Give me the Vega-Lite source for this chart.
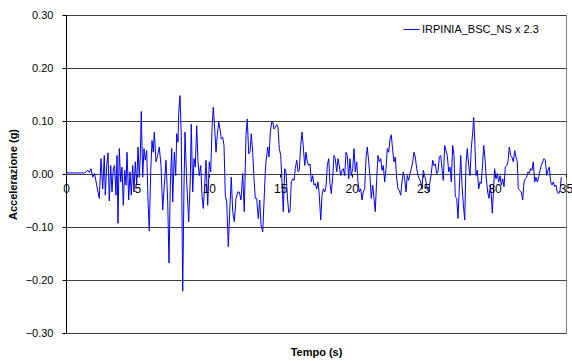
{
"$schema": "https://vega.github.io/schema/vega-lite/v6.json",
"width": 500, "height": 318,
"autosize": {"type": "none"},
"padding": {"left": 66, "top": 15, "right": 6, "bottom": 28},
"background": "white",
"config": {"view": {"stroke": "#808080", "strokeWidth": 1}, "font": "Liberation Sans"},
"data": {"values": [
{"t":0,"a":0.002},{"t":1.28,"a":0.002},{"t":1.4,"a":0.004},{"t":1.52,"a":0.007},{"t":1.63,"a":0.003},{"t":1.75,"a":0.010},{"t":1.87,"a":-0.006},{"t":2.0,"a":0.001},{"t":2.15,"a":-0.021},{"t":2.33,"a":-0.046},{"t":2.45,"a":0.029},{"t":2.57,"a":-0.028},{"t":2.68,"a":0.035},{"t":2.75,"a":-0.040},{"t":2.85,"a":0.016},{"t":2.94,"a":0.040},{"t":3.03,"a":-0.051},{"t":3.13,"a":0.016},{"t":3.22,"a":-0.034},{"t":3.31,"a":0.010},{"t":3.4,"a":0.016},{"t":3.5,"a":-0.040},{"t":3.57,"a":0.035},{"t":3.64,"a":-0.093},{"t":3.73,"a":0.048},{"t":3.83,"a":-0.015},{"t":3.92,"a":0.013},{"t":4.01,"a":-0.059},{"t":4.11,"a":0.007},{"t":4.2,"a":-0.021},{"t":4.27,"a":0.041},{"t":4.39,"a":-0.049},{"t":4.48,"a":0.004},{"t":4.57,"a":-0.040},{"t":4.67,"a":0.016},{"t":4.76,"a":-0.034},{"t":4.85,"a":0.023},{"t":4.95,"a":-0.021},{"t":5.04,"a":0.051},{"t":5.13,"a":-0.006},{"t":5.2,"a":0.035},{"t":5.27,"a":0.118},{"t":5.37,"a":-0.006},{"t":5.46,"a":0.048},{"t":5.55,"a":0.026},{"t":5.65,"a":0.044},{"t":5.74,"a":-0.049},{"t":5.83,"a":-0.107},{"t":5.93,"a":0.004},{"t":6.02,"a":0.063},{"t":6.11,"a":0.041},{"t":6.18,"a":0.079},{"t":6.3,"a":0.023},{"t":6.42,"a":0.035},{"t":6.53,"a":0.051},{"t":6.65,"a":0.016},{"t":6.77,"a":-0.068},{"t":6.88,"a":-0.021},{"t":7.0,"a":0.026},
{"t":7.12,"a":-0.053},{"t":7.21,"a":-0.168},{"t":7.3,"a":-0.021},{"t":7.4,"a":0.048},{"t":7.47,"a":-0.053},{"t":7.58,"a":0.041},{"t":7.68,"a":-0.003},{"t":7.75,"a":0.076},{"t":7.84,"a":0.060},{"t":7.89,"a":0.116},{"t":7.98,"a":0.148},{"t":8.07,"a":0.073},{"t":8.17,"a":-0.221},{"t":8.26,"a":-0.021},{"t":8.33,"a":0.079},{"t":8.45,"a":-0.015},{"t":8.59,"a":-0.090},{"t":8.7,"a":-0.009},{"t":8.77,"a":0.094},{"t":8.87,"a":-0.034},{"t":8.96,"a":0.029},{"t":9.05,"a":0.013},{"t":9.15,"a":0.091},{"t":9.24,"a":0.023},{"t":9.33,"a":-0.003},{"t":9.43,"a":0.016},{"t":9.52,"a":-0.040},{"t":9.61,"a":-0.065},{"t":9.71,"a":-0.021},{"t":9.8,"a":0.026},{"t":9.92,"a":-0.059},{"t":10.03,"a":0.023},{"t":10.13,"a":0.004},{"t":10.22,"a":0.085},{"t":10.31,"a":0.126},{"t":10.41,"a":0.085},{"t":10.5,"a":0.041},{"t":10.59,"a":0.073},{"t":10.69,"a":0.098},{"t":10.78,"a":0.085},{"t":10.87,"a":0.066},{"t":10.97,"a":0.069},{"t":11.06,"a":0.054},{"t":11.15,"a":-0.040},{"t":11.25,"a":-0.053},{"t":11.36,"a":-0.137},{"t":11.48,"a":-0.059},{"t":11.57,"a":-0.006},{"t":11.67,"a":-0.071},{"t":11.78,"a":-0.090},{"t":11.9,"a":-0.046},{"t":12.02,"a":-0.034},{"t":12.13,"a":-0.034},{"t":12.25,"a":-0.049},{"t":12.37,"a":0.001},{"t":12.48,"a":-0.071},{"t":12.6,"a":0.073},{"t":12.69,"a":0.104},{"t":12.79,"a":0.038},{"t":12.88,"a":0.041},{"t":12.97,"a":0.076},{"t":13.07,"a":0.041},{"t":13.16,"a":-0.009},{"t":13.25,"a":-0.046},{"t":13.35,"a":-0.046},{"t":13.46,"a":-0.084},{"t":13.56,"a":-0.049},{"t":13.65,"a":-0.096},{"t":13.77,"a":-0.109},{"t":13.86,"a":-0.053},{"t":13.95,"a":0.004},
{"t":14.0,"a":0.023},{"t":14.12,"a":0.051},{"t":14.21,"a":0.032},{"t":14.3,"a":0.079},{"t":14.4,"a":0.098},{"t":14.47,"a":0.099},{"t":14.56,"a":0.085},{"t":14.65,"a":0.088},{"t":14.75,"a":0.093},{"t":14.84,"a":0.088},{"t":14.93,"a":0.048},{"t":15.03,"a":0.035},{"t":15.12,"a":-0.015},{"t":15.21,"a":-0.071},{"t":15.31,"a":0.010},{"t":15.4,"a":0.004},{"t":15.49,"a":-0.040},{"t":15.59,"a":-0.073},{"t":15.68,"a":-0.071},{"t":15.77,"a":-0.015},{"t":15.87,"a":-0.009},{"t":15.96,"a":-0.012},{"t":16.05,"a":0.010},{"t":16.15,"a":0.026},{"t":16.24,"a":0.004},{"t":16.33,"a":0.007},{"t":16.43,"a":0.054},{"t":16.52,"a":0.079},{"t":16.61,"a":0.051},{"t":16.71,"a":0.016},{"t":16.8,"a":0.041},{"t":16.89,"a":0.023},{"t":16.99,"a":0.016},{"t":17.08,"a":0.019},{"t":17.17,"a":-0.015},{"t":17.27,"a":-0.003},{"t":17.36,"a":-0.021},{"t":17.45,"a":-0.018},{"t":17.55,"a":-0.028},{"t":17.64,"a":-0.015},{"t":17.73,"a":-0.040},{"t":17.83,"a":-0.087},{"t":17.92,"a":-0.040},{"t":18.01,"a":-0.028},{"t":18.11,"a":-0.034},{"t":18.2,"a":-0.024},{"t":18.29,"a":0.016},{"t":18.39,"a":0.029},{"t":18.48,"a":-0.018},{"t":18.57,"a":-0.037},{"t":18.67,"a":-0.006},{"t":18.76,"a":0.035},{"t":18.85,"a":0.029},{"t":18.95,"a":0.004},{"t":19.04,"a":0.029},{"t":19.13,"a":0.016},{"t":19.23,"a":-0.003},{"t":19.32,"a":0.007},{"t":19.41,"a":0.010},{"t":19.51,"a":-0.003},{"t":19.6,"a":0.041},{"t":19.69,"a":0.035},{"t":19.79,"a":-0.009},{"t":19.88,"a":0.029},{"t":19.97,"a":-0.003},{"t":20.07,"a":0.010},{"t":20.16,"a":0.048},{"t":20.25,"a":0.004},{"t":20.35,"a":0.023},{"t":20.44,"a":-0.015},{"t":20.53,"a":-0.034},{"t":20.63,"a":-0.028},{"t":20.72,"a":-0.049},{"t":20.81,"a":-0.034},{"t":20.91,"a":-0.028},{"t":21.0,"a":0.030},
{"t":21.09,"a":0.051},{"t":21.19,"a":0.023},{"t":21.28,"a":-0.006},{"t":21.37,"a":-0.046},{"t":21.47,"a":-0.021},{"t":21.56,"a":-0.046},{"t":21.65,"a":-0.071},{"t":21.75,"a":-0.009},{"t":21.84,"a":0.035},{"t":21.93,"a":0.023},{"t":22.03,"a":0.029},{"t":22.12,"a":0.007},{"t":22.21,"a":0.016},{"t":22.31,"a":-0.015},{"t":22.4,"a":0.010},{"t":22.49,"a":0.048},{"t":22.59,"a":0.041},{"t":22.68,"a":0.066},{"t":22.77,"a":0.074},{"t":22.87,"a":0.044},{"t":22.96,"a":0.023},{"t":23.05,"a":0.032},{"t":23.15,"a":-0.009},{"t":23.24,"a":-0.028},{"t":23.33,"a":-0.031},{"t":23.43,"a":-0.040},{"t":23.52,"a":-0.015},{"t":23.61,"a":0.004},{"t":23.71,"a":-0.009},{"t":23.8,"a":-0.034},{"t":23.89,"a":-0.003},{"t":23.99,"a":-0.012},{"t":24.08,"a":0.001},{"t":24.17,"a":0.010},{"t":24.27,"a":0.023},{"t":24.36,"a":0.041},{"t":24.45,"a":0.032},{"t":24.55,"a":0.010},{"t":24.64,"a":-0.003},{"t":24.73,"a":-0.009},{"t":24.83,"a":-0.015},{"t":24.92,"a":-0.028},{"t":25.01,"a":0.007},{"t":25.11,"a":-0.003},{"t":25.2,"a":-0.015},{"t":25.29,"a":-0.028},{"t":25.39,"a":-0.034},{"t":25.48,"a":-0.015},{"t":25.57,"a":0.001},{"t":25.67,"a":0.026},{"t":25.76,"a":0.016},{"t":25.85,"a":0.019},{"t":25.95,"a":0.001},{"t":26.04,"a":0.004},{"t":26.13,"a":0.032},{"t":26.23,"a":0.035},{"t":26.32,"a":0.010},{"t":26.41,"a":-0.012},{"t":26.51,"a":0.054},{"t":26.6,"a":0.044},{"t":26.69,"a":0.035},{"t":26.79,"a":0.004},{"t":26.88,"a":0.013},{"t":26.97,"a":-0.015},{"t":27.07,"a":0.054},{"t":27.16,"a":0.035},{"t":27.25,"a":-0.043},{"t":27.35,"a":-0.046},{"t":27.44,"a":-0.084},{"t":27.53,"a":-0.028},{"t":27.63,"a":0.035},{"t":27.72,"a":-0.021},{"t":27.81,"a":-0.056},{"t":27.91,"a":-0.087},{"t":28.0,"a":0.020},
{"t":28.09,"a":0.048},{"t":28.19,"a":0.016},{"t":28.28,"a":-0.003},{"t":28.37,"a":0.048},{"t":28.47,"a":0.079},{"t":28.54,"a":0.107},{"t":28.61,"a":0.066},{"t":28.7,"a":-0.003},{"t":28.79,"a":0.007},{"t":28.89,"a":-0.028},{"t":28.98,"a":-0.015},{"t":29.07,"a":-0.018},{"t":29.17,"a":0.023},{"t":29.24,"a":0.054},{"t":29.33,"a":0.029},{"t":29.42,"a":-0.009},{"t":29.52,"a":-0.034},{"t":29.61,"a":-0.046},{"t":29.7,"a":-0.021},{"t":29.77,"a":-0.040},{"t":29.84,"a":-0.074},{"t":29.91,"a":-0.040},{"t":30.0,"a":0.010},{"t":30.1,"a":-0.009},{"t":30.19,"a":0.001},{"t":30.29,"a":-0.015},{"t":30.38,"a":-0.003},{"t":30.47,"a":-0.021},{"t":30.57,"a":-0.009},{"t":30.66,"a":-0.024},{"t":30.75,"a":0.013},{"t":30.85,"a":0.016},{"t":30.94,"a":0.023},{"t":31.03,"a":0.051},{"t":31.13,"a":0.035},{"t":31.22,"a":0.032},{"t":31.31,"a":0.023},{"t":31.41,"a":0.044},{"t":31.5,"a":0.032},{"t":31.59,"a":0.023},{"t":31.66,"a":-0.028},{"t":31.78,"a":-0.031},{"t":31.87,"a":-0.034},{"t":31.97,"a":-0.049},{"t":32.06,"a":-0.015},{"t":32.15,"a":-0.009},{"t":32.25,"a":-0.006},{"t":32.34,"a":0.004},{"t":32.43,"a":0.001},{"t":32.53,"a":0.010},{"t":32.62,"a":0.007},{"t":32.71,"a":0.023},{"t":32.81,"a":-0.015},{"t":32.9,"a":-0.006},{"t":32.99,"a":-0.015},{"t":33.09,"a":-0.006},{"t":33.18,"a":0.007},{"t":33.27,"a":0.016},{"t":33.37,"a":0.023},{"t":33.46,"a":0.029},{"t":33.55,"a":0.026},{"t":33.65,"a":-0.003},{"t":33.74,"a":0.007},{"t":33.83,"a":0.013},{"t":33.93,"a":-0.015},{"t":34.02,"a":-0.021},{"t":34.11,"a":-0.015},{"t":34.21,"a":-0.024},{"t":34.3,"a":-0.021},{"t":34.39,"a":-0.034},{"t":34.49,"a":-0.037},{"t":34.58,"a":-0.031},{"t":34.67,"a":-0.006}
]},
"layer": [
{
"mark": {"type": "line", "opacity": 0},
"encoding": {
"x": {"field": "t", "type": "quantitative", "scale": {"domain": [0, 35], "nice": false, "zero": false},
"axis": {"orient": "bottom", "title": "Tempo (s)", "labels": false, "ticks": false, "domain": false, "grid": false, "titleFont": "Liberation Sans", "titleFontSize": 11, "titleFontWeight": "bold", "titleColor": "black", "titlePadding": 13}},
"y": {"field": "a", "type": "quantitative", "scale": {"domain": [-0.3, 0.3], "nice": false, "zero": false},
"axis": {"title": "Accelerazione (g)", "values": [-0.3, -0.2, -0.1, 0, 0.1, 0.2, 0.3], "format": ".2f", "grid": true, "gridColor": "#404040", "gridWidth": 1, "domainColor": "black", "tickColor": "black", "tickSize": 4, "labelPadding": 9, "labelFont": "Liberation Sans", "labelFontSize": 11, "labelColor": "black", "titleFont": "Liberation Sans", "titleFontSize": 11, "titleFontWeight": "bold", "titleColor": "black", "titlePadding": 7}}
}
},
{
"mark": {"type": "line", "strokeWidth": 1},
"encoding": {
"x": {"field": "t", "type": "quantitative",
"axis": {"orient": "bottom", "title": null, "offset": -159, "values": [0, 5, 10, 15, 20, 25, 30, 35], "domain": false, "grid": false, "ticks": true, "tickSize": 3, "tickColor": "black", "labelPadding": 6, "labelFont": "Liberation Sans", "labelFontSize": 12, "labelColor": "black", "labelOverlap": false, "labelBound": false, "labelFlush": false, "zindex": 1}},
"y": {"field": "a", "type": "quantitative", "axis": null},
"color": {"datum": "IRPINIA_BSC_NS x 2.3", "scale": {"domain": ["IRPINIA_BSC_NS x 2.3"], "range": ["#0000ff"]},
"legend": {"title": null, "orient": "none", "legendX": 337, "legendY": 6, "padding": 0, "symbolType": "stroke", "symbolSize": 256, "symbolStrokeWidth": 1, "symbolOffset": 0, "labelOffset": 2, "labelFont": "Liberation Sans", "labelFontSize": 11, "labelColor": "black"}}
}
}
],
"resolve": {"axis": {"x": "independent", "y": "independent"}}
}
